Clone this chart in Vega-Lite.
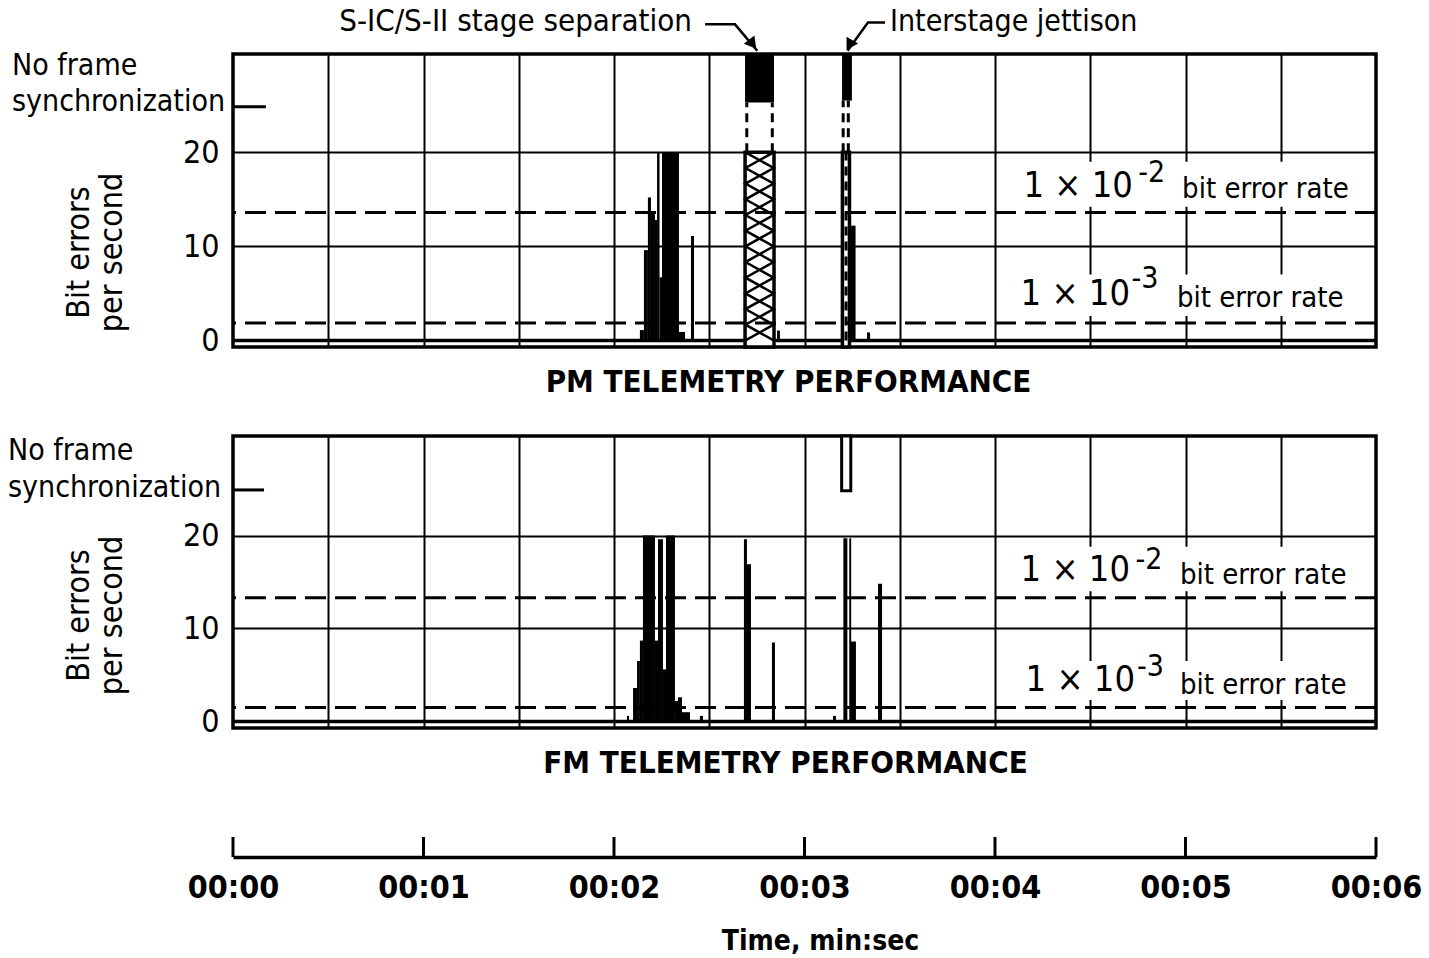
{
  "$schema": "https://vega.github.io/schema/vega-lite/v6.json",
  "background": "white",
  "padding": {"left": 6, "top": 4, "right": 0, "bottom": 0},
  "spacing": 33,
  "config": {
    "font": "DejaVu Sans Condensed",
    "view": {"stroke": "black", "strokeWidth": 3.5},
    "axis": {"labelColor": "black", "titleColor": "black", "gridColor": "black", "gridOpacity": 1, "domainColor": "black", "tickColor": "black"},
    "text": {"color": "black"}
  },
  "datasets": {
    "pm_bars": [
      {"t0": 2.136, "t1": 2.157, "v": 1.1},
      {"t0": 2.157, "t1": 2.178, "v": 9.6},
      {"t0": 2.178, "t1": 2.194, "v": 15.2},
      {"t0": 2.194, "t1": 2.215, "v": 13.6},
      {"t0": 2.215, "t1": 2.226, "v": 12.8},
      {"t0": 2.226, "t1": 2.239, "v": 20},
      {"t0": 2.239, "t1": 2.252, "v": 6.7},
      {"t0": 2.252, "t1": 2.341, "v": 20},
      {"t0": 2.341, "t1": 2.373, "v": 0.9},
      {"t0": 2.404, "t1": 2.420, "v": 11.1},
      {"t0": 2.856, "t1": 2.871, "v": 1.05},
      {"t0": 3.236, "t1": 3.268, "v": 12.2},
      {"t0": 3.328, "t1": 3.344, "v": 0.85}
    ],
    "fm_bars": [
      {"t0": 2.068, "t1": 2.079, "v": 0.6},
      {"t0": 2.100, "t1": 2.121, "v": 3.6},
      {"t0": 2.121, "t1": 2.136, "v": 6.5},
      {"t0": 2.136, "t1": 2.152, "v": 8.7},
      {"t0": 2.152, "t1": 2.215, "v": 20},
      {"t0": 2.215, "t1": 2.231, "v": 8.7},
      {"t0": 2.231, "t1": 2.257, "v": 19.6},
      {"t0": 2.257, "t1": 2.273, "v": 5.6},
      {"t0": 2.273, "t1": 2.320, "v": 20},
      {"t0": 2.320, "t1": 2.336, "v": 2.2},
      {"t0": 2.336, "t1": 2.357, "v": 2.6},
      {"t0": 2.357, "t1": 2.399, "v": 1.0},
      {"t0": 2.451, "t1": 2.467, "v": 0.6},
      {"t0": 2.682, "t1": 2.698, "v": 19.6},
      {"t0": 2.698, "t1": 2.719, "v": 16.9},
      {"t0": 2.829, "t1": 2.845, "v": 8.5},
      {"t0": 3.150, "t1": 3.165, "v": 0.6},
      {"t0": 3.204, "t1": 3.225, "v": 19.7},
      {"t0": 3.235, "t1": 3.245, "v": 19.7},
      {"t0": 3.243, "t1": 3.270, "v": 8.6},
      {"t0": 3.386, "t1": 3.407, "v": 14.8}
    ],
    "pm_sync": [
      {"t0": 2.688, "t1": 2.840, "v0": 25.3, "v1": 30.45},
      {"t0": 3.197, "t1": 3.249, "v0": 25.5, "v1": 30.45}
    ],
    "pm_box": [
      {"t0": 2.688, "t1": 2.840, "v0": -0.7, "v1": 20},
      {"t0": 3.199, "t1": 3.236, "v0": -0.7, "v1": 20}
    ],
    "fm_box": [
      {"t0": 3.195, "t1": 3.243, "v0": 24.8, "v1": 30.7}
    ],
    "pm_knock": [
      {"t0": 4.15, "t1": 5.63, "v0": 14.2, "v1": 19.0},
      {"t0": 4.15, "t1": 5.63, "v0": 2.6, "v1": 7.0}
    ],
    "fm_knock": [
      {"t0": 4.15, "t1": 5.63, "v0": 14.0, "v1": 18.8},
      {"t0": 4.15, "t1": 5.63, "v0": 2.3, "v1": 6.5}
    ],
    "pm_hatch": [
      {"line": "A", "k": 0, "t": 2.690, "v": 20},
      {"line": "A", "k": 1, "t": 2.838, "v": 18.33},
      {"line": "A", "k": 2, "t": 2.690, "v": 16.67},
      {"line": "A", "k": 3, "t": 2.838, "v": 15},
      {"line": "A", "k": 4, "t": 2.690, "v": 13.33},
      {"line": "A", "k": 5, "t": 2.838, "v": 11.67},
      {"line": "A", "k": 6, "t": 2.690, "v": 10},
      {"line": "A", "k": 7, "t": 2.838, "v": 8.33},
      {"line": "A", "k": 8, "t": 2.690, "v": 6.67},
      {"line": "A", "k": 9, "t": 2.838, "v": 5},
      {"line": "A", "k": 10, "t": 2.690, "v": 3.33},
      {"line": "A", "k": 11, "t": 2.838, "v": 1.67},
      {"line": "A", "k": 12, "t": 2.690, "v": 0},
      {"line": "B", "k": 0, "t": 2.838, "v": 20},
      {"line": "B", "k": 1, "t": 2.690, "v": 18.33},
      {"line": "B", "k": 2, "t": 2.838, "v": 16.67},
      {"line": "B", "k": 3, "t": 2.690, "v": 15},
      {"line": "B", "k": 4, "t": 2.838, "v": 13.33},
      {"line": "B", "k": 5, "t": 2.690, "v": 11.67},
      {"line": "B", "k": 6, "t": 2.838, "v": 10},
      {"line": "B", "k": 7, "t": 2.690, "v": 8.33},
      {"line": "B", "k": 8, "t": 2.838, "v": 6.67},
      {"line": "B", "k": 9, "t": 2.690, "v": 5},
      {"line": "B", "k": 10, "t": 2.838, "v": 3.33},
      {"line": "B", "k": 11, "t": 2.690, "v": 1.67},
      {"line": "B", "k": 12, "t": 2.838, "v": 0}
    ],
    "pm_dash": [
      {"t": 2.697, "v0": 20, "v1": 25.3},
      {"t": 2.831, "v0": 20, "v1": 25.3},
      {"t": 3.203, "v0": 20, "v1": 25.5},
      {"t": 3.230, "v0": 20, "v1": 25.5},
      {"t": 3.218, "v0": 0, "v1": 20}
    ],
    "pm_thr": [{"rate": "1e-2", "v": 13.6}, {"rate": "1e-3", "v": 1.85}],
    "fm_thr": [{"rate": "1e-2", "v": 13.3}, {"rate": "1e-3", "v": 1.5}],
    "pm_tick": [{"t0": 0, "t1": 0.173, "v": 24.85}],
    "fm_tick": [{"t0": 0, "t1": 0.163, "v": 24.9}],
    "pm_arrows": [
      {"arrow": "sep", "k": 0, "t": 2.478, "v": 33.6},
      {"arrow": "sep", "k": 1, "t": 2.635, "v": 33.6},
      {"arrow": "sep", "k": 2, "t": 2.752, "v": 30.8},
      {"arrow": "jet", "k": 0, "t": 3.423, "v": 33.8},
      {"arrow": "jet", "k": 1, "t": 3.333, "v": 33.8},
      {"arrow": "jet", "k": 2, "t": 3.226, "v": 30.8}
    ],
    "pm_nf": [{"t": -1.16, "v": 29.2, "txt": "No frame"}, {"t": -1.16, "v": 25.3, "txt": "synchronization"}],
    "fm_nf": [{"t": -1.181, "v": 29.1, "txt": "No frame"}, {"t": -1.181, "v": 25.1, "txt": "synchronization"}],
    "pm_big": [{"t": 4.724, "v": 15.2, "txt": "1 × 10"}, {"t": 4.709, "v": 3.8, "txt": "1 × 10"}],
    "pm_sup": [{"t": 4.752, "v": 16.8, "txt": "-2"}, {"t": 4.716, "v": 5.6, "txt": "-3"}],
    "pm_small": [{"t": 4.982, "v": 15.1, "txt": "bit error rate"}, {"t": 4.955, "v": 3.5, "txt": "bit error rate"}],
    "fm_big": [{"t": 4.709, "v": 15.1, "txt": "1 × 10"}, {"t": 4.735, "v": 3.3, "txt": "1 × 10"}],
    "fm_sup": [{"t": 4.737, "v": 16.4, "txt": "-2"}, {"t": 4.745, "v": 4.9, "txt": "-3"}],
    "fm_small": [{"t": 4.971, "v": 14.8, "txt": "bit error rate"}, {"t": 4.971, "v": 2.96, "txt": "bit error rate"}],
    "ticks": [{"t": 0}, {"t": 1}, {"t": 2}, {"t": 3}, {"t": 4}, {"t": 5}, {"t": 6}]
  },
  "vconcat": [
    {
      "width": 1143,
      "height": 293,
      "layer": [
        {
          "data": {"name": "pm_bars"},
          "mark": {"type": "rect", "color": "black"},
          "encoding": {
            "x": {"field": "t0", "type": "quantitative", "scale": {"domain": [0, 6], "nice": false, "zero": false},
              "axis": {"values": [0.5, 1, 1.5, 2, 2.5, 3, 3.5, 4, 4.5, 5, 5.5], "grid": true, "gridWidth": 2, "labels": false, "ticks": false, "domain": false,
                "title": "PM TELEMETRY PERFORMANCE", "titleFontSize": 31, "titleFontWeight": "bold", "titlePadding": 20, "titleX": 555}},
            "x2": {"field": "t1"},
            "y": {"field": "v", "type": "quantitative", "scale": {"domain": [-0.7, 30.45], "nice": false, "zero": false},
              "axis": {"values": [0, 10, 20], "grid": true, "gridWidth": {"condition": {"test": "datum.value === 0", "value": 3.5}, "value": 2},
                "ticks": false, "domain": false, "labelFontSize": 32, "labelPadding": 14,
                "title": ["Bit errors", "per second"], "titleFontSize": 32, "titleFontWeight": "normal", "titleLineHeight": 33,
                "titleBaseline": "bottom", "titleX": -138, "titleY": 198}},
            "y2": {"datum": 0}
          }
        },
        {
          "data": {"name": "pm_knock"},
          "mark": {"type": "rect", "fill": "white"},
          "encoding": {
            "x": {"field": "t0", "type": "quantitative", "scale": {"domain": [0, 6], "nice": false, "zero": false}},
            "x2": {"field": "t1"},
            "y": {"field": "v0", "type": "quantitative", "scale": {"domain": [-0.7, 30.45], "nice": false, "zero": false}},
            "y2": {"field": "v1"}
          }
        },
        {
          "data": {"name": "pm_box"},
          "mark": {"type": "rect", "fill": "white", "stroke": "black", "strokeWidth": 3.5},
          "encoding": {
            "x": {"field": "t0", "type": "quantitative", "scale": {"domain": [0, 6], "nice": false, "zero": false}},
            "x2": {"field": "t1"},
            "y": {"field": "v0", "type": "quantitative", "scale": {"domain": [-0.7, 30.45], "nice": false, "zero": false}},
            "y2": {"field": "v1"}
          }
        },
        {
          "data": {"name": "pm_hatch"},
          "mark": {"type": "line", "color": "black", "strokeWidth": 2.5},
          "encoding": {
            "x": {"field": "t", "type": "quantitative", "scale": {"domain": [0, 6], "nice": false, "zero": false}},
            "y": {"field": "v", "type": "quantitative", "scale": {"domain": [-0.7, 30.45], "nice": false, "zero": false}},
            "detail": {"field": "line"},
            "order": {"field": "k", "type": "quantitative"}
          }
        },
        {
          "data": {"name": "pm_sync"},
          "mark": {"type": "rect", "color": "black"},
          "encoding": {
            "x": {"field": "t0", "type": "quantitative", "scale": {"domain": [0, 6], "nice": false, "zero": false}},
            "x2": {"field": "t1"},
            "y": {"field": "v0", "type": "quantitative", "scale": {"domain": [-0.7, 30.45], "nice": false, "zero": false}},
            "y2": {"field": "v1"}
          }
        },
        {
          "data": {"name": "pm_dash"},
          "mark": {"type": "rule", "color": "black", "strokeWidth": 3, "strokeDash": [9, 6]},
          "encoding": {
            "x": {"field": "t", "type": "quantitative", "scale": {"domain": [0, 6], "nice": false, "zero": false}},
            "y": {"field": "v0", "type": "quantitative", "scale": {"domain": [-0.7, 30.45], "nice": false, "zero": false}},
            "y2": {"field": "v1"}
          }
        },
        {
          "data": {"name": "pm_thr"},
          "mark": {"type": "rule", "color": "black", "strokeWidth": 3, "strokeDash": [21, 9]},
          "encoding": {
            "y": {"field": "v", "type": "quantitative", "scale": {"domain": [-0.7, 30.45], "nice": false, "zero": false}}
          }
        },
        {
          "data": {"name": "pm_tick"},
          "mark": {"type": "rule", "color": "black", "strokeWidth": 3},
          "encoding": {
            "x": {"field": "t0", "type": "quantitative", "scale": {"domain": [0, 6], "nice": false, "zero": false}},
            "x2": {"field": "t1"},
            "y": {"field": "v", "type": "quantitative", "scale": {"domain": [-0.7, 30.45], "nice": false, "zero": false}}
          }
        },
        {
          "data": {"name": "pm_arrows"},
          "mark": {"type": "line", "color": "black", "strokeWidth": 2.5},
          "encoding": {
            "x": {"field": "t", "type": "quantitative", "scale": {"domain": [0, 6], "nice": false, "zero": false}},
            "y": {"field": "v", "type": "quantitative", "scale": {"domain": [-0.7, 30.45], "nice": false, "zero": false}},
            "detail": {"field": "arrow"},
            "order": {"field": "k", "type": "quantitative"}
          }
        },
        {
          "data": {"values": [{"t": 2.728, "v": 31.5}]},
          "mark": {"type": "point", "shape": "triangle-down", "filled": true, "color": "black", "opacity": 1, "size": 180, "angle": -38},
          "encoding": {
            "x": {"field": "t", "type": "quantitative", "scale": {"domain": [0, 6], "nice": false, "zero": false}},
            "y": {"field": "v", "type": "quantitative", "scale": {"domain": [-0.7, 30.45], "nice": false, "zero": false}}
          }
        },
        {
          "data": {"values": [{"t": 3.236, "v": 31.4}]},
          "mark": {"type": "point", "shape": "triangle-down", "filled": true, "color": "black", "opacity": 1, "size": 180, "angle": 30},
          "encoding": {
            "x": {"field": "t", "type": "quantitative", "scale": {"domain": [0, 6], "nice": false, "zero": false}},
            "y": {"field": "v", "type": "quantitative", "scale": {"domain": [-0.7, 30.45], "nice": false, "zero": false}}
          }
        },
        {
          "data": {"values": [{"t": 2.409, "v": 33.8, "txt": "S-IC/S-II stage separation"}]},
          "mark": {"type": "text", "align": "right", "baseline": "middle", "fontSize": 31},
          "encoding": {
            "x": {"field": "t", "type": "quantitative", "scale": {"domain": [0, 6], "nice": false, "zero": false}},
            "y": {"field": "v", "type": "quantitative", "scale": {"domain": [-0.7, 30.45], "nice": false, "zero": false}},
            "text": {"field": "txt"}
          }
        },
        {
          "data": {"values": [{"t": 3.449, "v": 33.8, "txt": "Interstage jettison"}]},
          "mark": {"type": "text", "align": "left", "baseline": "middle", "fontSize": 30},
          "encoding": {
            "x": {"field": "t", "type": "quantitative", "scale": {"domain": [0, 6], "nice": false, "zero": false}},
            "y": {"field": "v", "type": "quantitative", "scale": {"domain": [-0.7, 30.45], "nice": false, "zero": false}},
            "text": {"field": "txt"}
          }
        },
        {
          "data": {"name": "pm_nf"},
          "mark": {"type": "text", "align": "left", "baseline": "middle", "fontSize": 30},
          "encoding": {
            "x": {"field": "t", "type": "quantitative", "scale": {"domain": [0, 6], "nice": false, "zero": false}},
            "y": {"field": "v", "type": "quantitative", "scale": {"domain": [-0.7, 30.45], "nice": false, "zero": false}},
            "text": {"field": "txt"}
          }
        },
        {
          "data": {"name": "pm_big"},
          "mark": {"type": "text", "align": "right", "baseline": "alphabetic", "fontSize": 36},
          "encoding": {
            "x": {"field": "t", "type": "quantitative", "scale": {"domain": [0, 6], "nice": false, "zero": false}},
            "y": {"field": "v", "type": "quantitative", "scale": {"domain": [-0.7, 30.45], "nice": false, "zero": false}},
            "text": {"field": "txt"}
          }
        },
        {
          "data": {"name": "pm_sup"},
          "mark": {"type": "text", "align": "left", "baseline": "alphabetic", "fontSize": 30},
          "encoding": {
            "x": {"field": "t", "type": "quantitative", "scale": {"domain": [0, 6], "nice": false, "zero": false}},
            "y": {"field": "v", "type": "quantitative", "scale": {"domain": [-0.7, 30.45], "nice": false, "zero": false}},
            "text": {"field": "txt"}
          }
        },
        {
          "data": {"name": "pm_small"},
          "mark": {"type": "text", "align": "left", "baseline": "alphabetic", "fontSize": 29},
          "encoding": {
            "x": {"field": "t", "type": "quantitative", "scale": {"domain": [0, 6], "nice": false, "zero": false}},
            "y": {"field": "v", "type": "quantitative", "scale": {"domain": [-0.7, 30.45], "nice": false, "zero": false}},
            "text": {"field": "txt"}
          }
        }
      ]
    },
    {
      "width": 1143,
      "height": 292,
      "layer": [
        {
          "data": {"name": "fm_bars"},
          "mark": {"type": "rect", "color": "black"},
          "encoding": {
            "x": {"field": "t0", "type": "quantitative", "scale": {"domain": [0, 6], "nice": false, "zero": false},
              "axis": {"values": [0.5, 1, 1.5, 2, 2.5, 3, 3.5, 4, 4.5, 5, 5.5], "grid": true, "gridWidth": 2, "labels": false, "ticks": false, "domain": false,
                "title": "FM TELEMETRY PERFORMANCE", "titleFontSize": 31, "titleFontWeight": "bold", "titlePadding": 20, "titleX": 552}},
            "x2": {"field": "t1"},
            "y": {"field": "v", "type": "quantitative", "scale": {"domain": [-0.7, 30.7], "nice": false, "zero": false},
              "axis": {"values": [0, 10, 20], "grid": true, "gridWidth": {"condition": {"test": "datum.value === 0", "value": 3.5}, "value": 2},
                "ticks": false, "domain": false, "labelFontSize": 32, "labelPadding": 14,
                "title": ["Bit errors", "per second"], "titleFontSize": 32, "titleFontWeight": "normal", "titleLineHeight": 33,
                "titleBaseline": "bottom", "titleX": -138, "titleY": 179}},
            "y2": {"datum": 0}
          }
        },
        {
          "data": {"name": "fm_knock"},
          "mark": {"type": "rect", "fill": "white"},
          "encoding": {
            "x": {"field": "t0", "type": "quantitative", "scale": {"domain": [0, 6], "nice": false, "zero": false}},
            "x2": {"field": "t1"},
            "y": {"field": "v0", "type": "quantitative", "scale": {"domain": [-0.7, 30.7], "nice": false, "zero": false}},
            "y2": {"field": "v1"}
          }
        },
        {
          "data": {"name": "fm_box"},
          "mark": {"type": "rect", "fill": "white", "stroke": "black", "strokeWidth": 3},
          "encoding": {
            "x": {"field": "t0", "type": "quantitative", "scale": {"domain": [0, 6], "nice": false, "zero": false}},
            "x2": {"field": "t1"},
            "y": {"field": "v0", "type": "quantitative", "scale": {"domain": [-0.7, 30.7], "nice": false, "zero": false}},
            "y2": {"field": "v1"}
          }
        },
        {
          "data": {"name": "fm_thr"},
          "mark": {"type": "rule", "color": "black", "strokeWidth": 3, "strokeDash": [21, 9]},
          "encoding": {
            "y": {"field": "v", "type": "quantitative", "scale": {"domain": [-0.7, 30.7], "nice": false, "zero": false}}
          }
        },
        {
          "data": {"name": "fm_tick"},
          "mark": {"type": "rule", "color": "black", "strokeWidth": 3},
          "encoding": {
            "x": {"field": "t0", "type": "quantitative", "scale": {"domain": [0, 6], "nice": false, "zero": false}},
            "x2": {"field": "t1"},
            "y": {"field": "v", "type": "quantitative", "scale": {"domain": [-0.7, 30.7], "nice": false, "zero": false}}
          }
        },
        {
          "data": {"name": "fm_nf"},
          "mark": {"type": "text", "align": "left", "baseline": "middle", "fontSize": 30},
          "encoding": {
            "x": {"field": "t", "type": "quantitative", "scale": {"domain": [0, 6], "nice": false, "zero": false}},
            "y": {"field": "v", "type": "quantitative", "scale": {"domain": [-0.7, 30.7], "nice": false, "zero": false}},
            "text": {"field": "txt"}
          }
        },
        {
          "data": {"name": "fm_big"},
          "mark": {"type": "text", "align": "right", "baseline": "alphabetic", "fontSize": 36},
          "encoding": {
            "x": {"field": "t", "type": "quantitative", "scale": {"domain": [0, 6], "nice": false, "zero": false}},
            "y": {"field": "v", "type": "quantitative", "scale": {"domain": [-0.7, 30.7], "nice": false, "zero": false}},
            "text": {"field": "txt"}
          }
        },
        {
          "data": {"name": "fm_sup"},
          "mark": {"type": "text", "align": "left", "baseline": "alphabetic", "fontSize": 30},
          "encoding": {
            "x": {"field": "t", "type": "quantitative", "scale": {"domain": [0, 6], "nice": false, "zero": false}},
            "y": {"field": "v", "type": "quantitative", "scale": {"domain": [-0.7, 30.7], "nice": false, "zero": false}},
            "text": {"field": "txt"}
          }
        },
        {
          "data": {"name": "fm_small"},
          "mark": {"type": "text", "align": "left", "baseline": "alphabetic", "fontSize": 29},
          "encoding": {
            "x": {"field": "t", "type": "quantitative", "scale": {"domain": [0, 6], "nice": false, "zero": false}},
            "y": {"field": "v", "type": "quantitative", "scale": {"domain": [-0.7, 30.7], "nice": false, "zero": false}},
            "text": {"field": "txt"}
          }
        }
      ]
    },
    {
      "width": 1143,
      "height": 44,
      "view": {"stroke": null},
      "data": {"name": "ticks"},
      "mark": {"type": "rule", "color": "black", "strokeWidth": 3},
      "encoding": {
        "x": {"field": "t", "type": "quantitative", "scale": {"domain": [0, 6], "nice": false, "zero": false},
          "axis": {"values": [0, 1, 2, 3, 4, 5, 6], "labelExpr": "'00:0' + datum.value", "labelFontSize": 32, "labelFontWeight": "bold",
            "labelPadding": 15, "labelFlush": false, "ticks": false, "domain": true, "domainWidth": 3.5, "grid": false,
            "title": "Time, min:sec", "titleFontSize": 28, "titleFontWeight": "bold", "titlePadding": 24, "titleX": 587}},
        "y": {"datum": 0, "type": "quantitative", "scale": {"domain": [0, 2.2], "nice": false, "zero": false}, "axis": null},
        "y2": {"datum": 1}
      }
    }
  ]
}
